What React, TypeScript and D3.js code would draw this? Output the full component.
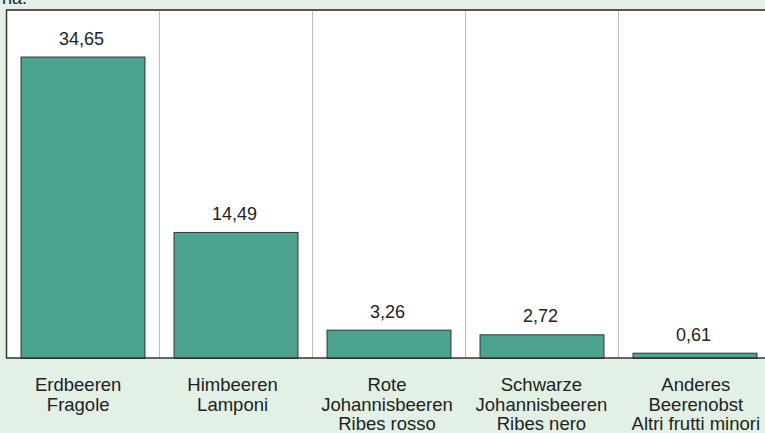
import React, { useRef, useEffect } from 'react';
import * as d3 from 'd3';

// Fläche in ha / superficie in ha
const categories: string[][] = [
    ['Erdbeeren', 'Fragole'],
    ['Himbeeren', 'Lamponi'],
    ['Rote', 'Johannisbeeren', 'Ribes rosso'],
    ['Schwarze', 'Johannisbeeren', 'Ribes nero'],
    ['Anderes', 'Beerenobst', 'Altri frutti minori'],
];
const values: number[] = [34.65, 14.49, 3.26, 2.72, 0.61];
const unitLabel = 'ha.';
const yMax = 40;

const fmt = (v: number) => v.toFixed(2).replace('.', ',');

const App: React.FC = () => {
    const ref = useRef<SVGSVGElement>(null);

    useEffect(() => {
        if (!ref.current) return;
        const svg = d3.select(ref.current);
        svg.selectAll('*').remove();

        const width = 765;
        const height = 433;
        const margin = { top: 10, left: 6, bottom: 75 };
        const innerHeight = height - margin.top - margin.bottom;
        const bandStep = 153;

        svg.append('rect')
            .attr('width', width).attr('height', height)
            .attr('fill', '#e2f0e5');

        svg.append('text')
            .attr('x', 2).attr('y', 4)
            .attr('font-size', 18)
            .attr('fill', '#222')
            .text(unitLabel);

        const g = svg.append('g')
            .attr('transform', `translate(${margin.left},${margin.top})`);

        const ids = values.map((_, i) => String(i));
        const xScale = d3.scaleBand()
            .domain(ids)
            .range([0, bandStep * values.length])
            .paddingInner(0.19)
            .paddingOuter(0.095);
        const bandOuter = d3.scaleBand()
            .domain(ids)
            .range([0, bandStep * values.length]);
        // category labels sit on a slightly wider grid than the bars
        const labelScale = d3.scaleBand()
            .domain(ids)
            .range([-5, 767]);

        const yScale = d3.scaleLinear().domain([0, yMax]).range([innerHeight, 0]);

        // plot area
        g.append('rect')
            .attr('width', bandStep * values.length)
            .attr('height', innerHeight)
            .attr('fill', 'white');

        // category separators
        g.selectAll('.sep')
            .data(ids.slice(1))
            .enter()
            .append('line')
            .attr('x1', d => (bandOuter(d) as number) + 0.5)
            .attr('x2', d => (bandOuter(d) as number) + 0.5)
            .attr('y1', 0).attr('y2', innerHeight)
            .attr('stroke', '#bdbdbd').attr('stroke-width', 1);

        // bars
        g.selectAll('.bar')
            .data(values)
            .enter()
            .append('rect')
            .attr('x', (d, i) => (xScale(String(i)) as number) + 0.5)
            .attr('y', d => yScale(d) + 0.5)
            .attr('width', xScale.bandwidth())
            .attr('height', d => innerHeight - yScale(d))
            .attr('fill', '#4ca390')
            .attr('stroke', '#333')
            .attr('stroke-width', 1);

        // value labels
        g.selectAll('.val')
            .data(values)
            .enter()
            .append('text')
            .attr('x', (d, i) => (bandOuter(String(i)) as number) + bandOuter.bandwidth() / 2 - 1)
            .attr('y', d => yScale(d) - 12)
            .attr('text-anchor', 'middle')
            .attr('font-size', 18)
            .attr('fill', '#222')
            .text(d => fmt(d));

        // frame: top, left, bottom
        g.append('line')
            .attr('x1', 0).attr('x2', bandStep * values.length)
            .attr('y1', 0).attr('y2', 0)
            .attr('stroke', '#555').attr('stroke-width', 2);
        g.append('line')
            .attr('x1', 0.5).attr('x2', 0.5)
            .attr('y1', 0).attr('y2', innerHeight)
            .attr('stroke', '#333').attr('stroke-width', 1.5);
        g.append('line')
            .attr('x1', 0).attr('x2', bandStep * values.length)
            .attr('y1', innerHeight).attr('y2', innerHeight)
            .attr('stroke', '#333').attr('stroke-width', 1.5);

        // category labels
        const labels = g.selectAll('.cat')
            .data(categories)
            .enter()
            .append('text')
            .attr('text-anchor', 'middle')
            .attr('font-size', 18.5)
            .attr('fill', '#222');

        labels.selectAll('tspan')
            .data((d, i) => d.map(line => ({ line, i })))
            .enter()
            .append('tspan')
            .attr('x', d => (labelScale(String(d.i)) as number) + labelScale.bandwidth() / 2)
            .attr('y', (d, j) => innerHeight + 33 + j * 19.7)
            .text(d => d.line);
    }, []);

    return (
        <div style={{ position: 'fixed', left: 0, top: 0, width: 765, height: 433, overflow: 'hidden' }}>
            <svg
                ref={ref}
                width={765}
                height={433}
                style={{ display: 'block', fontFamily: 'Arial, "Liberation Sans", sans-serif' }}
            />
        </div>
    );
};

export default App;
